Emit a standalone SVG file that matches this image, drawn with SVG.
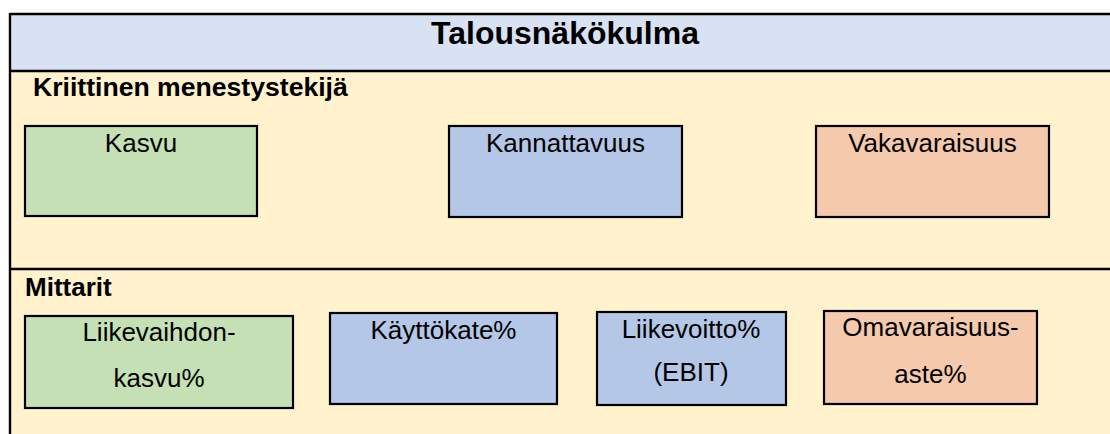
<svg xmlns="http://www.w3.org/2000/svg" width="1110" height="434" viewBox="0 0 1110 434">
<style>
.t{font-family:"Liberation Sans",Arial,sans-serif;fill:#000}
.b{font-weight:bold}
.lbl{font-size:26px;text-anchor:middle}
.box{stroke:#000;stroke-width:2.2}
.g{fill:#C5E0B4}
.bl{fill:#B4C7E7}
.o{fill:#F5C9AB}
.line{stroke:#000;stroke-width:2.4}
</style>
<rect width="1110" height="434" fill="#fff"/>
<g id="table">
<rect x="10" y="14" width="1110" height="57" fill="#D9E2F3"/>
<rect x="10" y="71" width="1110" height="380" fill="#FFF2CC"/>
<line class="line" x1="10" y1="14" x2="1112" y2="14"/>
<line class="line" x1="10" y1="71" x2="1112" y2="71"/>
<line class="line" x1="10" y1="269" x2="1112" y2="269"/>
<line class="line" x1="10" y1="13" x2="10" y2="436"/>
<text class="t b" x="565" y="44" font-size="32" text-anchor="middle">Talousnäkökulma</text>
<text class="t b" x="33" y="96" font-size="26.6">Kriittinen menestystekijä</text>
<text class="t b" x="25" y="296" font-size="26">Mittarit</text>
</g>
<g id="kasvu">
<rect class="box g" x="25" y="126" width="232" height="90"/>
<text class="t lbl" x="141" y="152">Kasvu</text>
</g>
<g id="kannattavuus">
<rect class="box bl" x="449" y="126" width="233" height="91"/>
<text class="t lbl" x="565.5" y="152">Kannattavuus</text>
</g>
<g id="vakavaraisuus">
<rect class="box o" x="816" y="126" width="233" height="91"/>
<text class="t lbl" x="932.5" y="152">Vakavaraisuus</text>
</g>
<g id="liikevaihdon">
<rect class="box g" x="25" y="316" width="268" height="92"/>
<text class="t lbl" x="159" y="341">Liikevaihdon-</text>
<text class="t lbl" x="159" y="387">kasvu%</text>
</g>
<g id="kayttokate">
<rect class="box bl" x="330" y="313" width="227" height="91"/>
<text class="t lbl" x="443.5" y="339">Käyttökate%</text>
</g>
<g id="liikevoitto">
<rect class="box bl" x="597" y="312" width="189" height="93"/>
<text class="t lbl" x="691" y="338">Liikevoitto%</text>
<text class="t lbl" x="691" y="381">(EBIT)</text>
</g>
<g id="omavaraisuus">
<rect class="box o" x="824" y="311" width="213" height="93"/>
<text class="t lbl" x="930.5" y="336">Omavaraisuus-</text>
<text class="t lbl" x="930.5" y="383">aste%</text>
</g>
<g id="connectors"></g>
</svg>
